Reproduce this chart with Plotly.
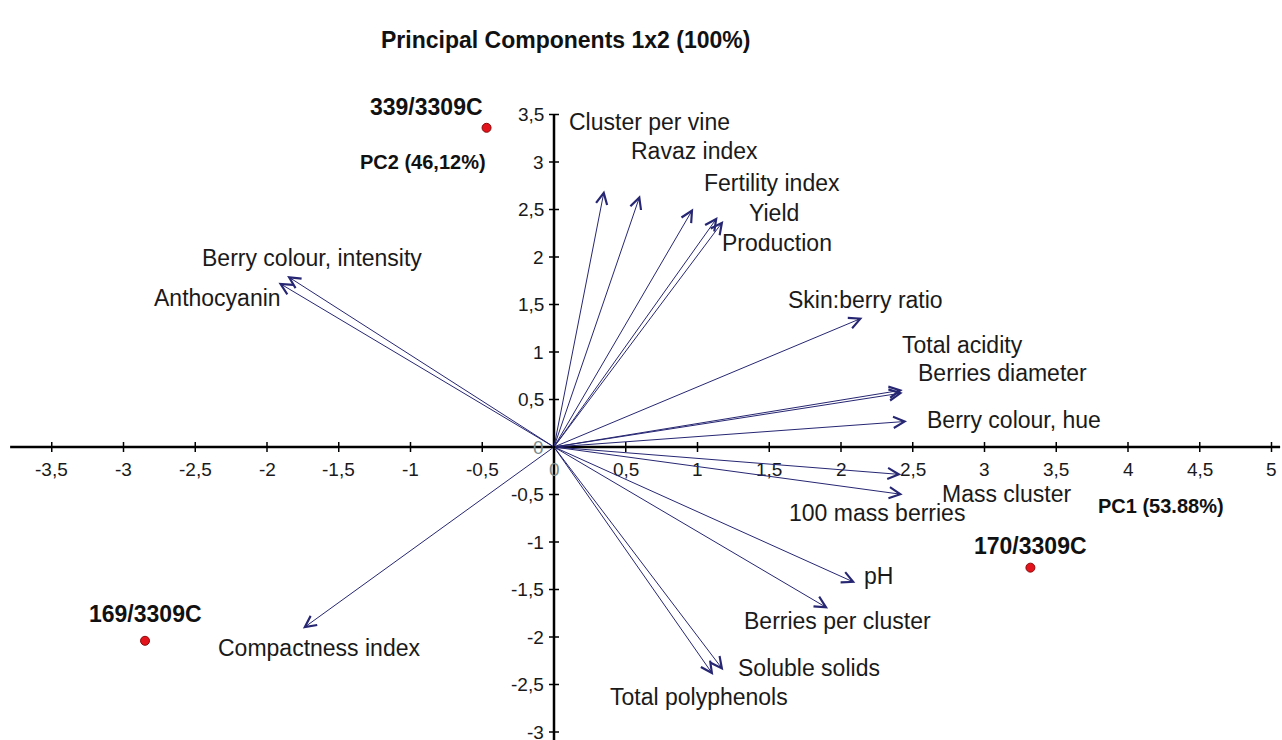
import plotly.graph_objects as go

# Variable loadings on the first two principal components
variables = [
    "Cluster per vine", "Ravaz index", "Fertility index", "Yield", "Production",
    "Berry colour, intensity", "Anthocyanin", "Skin:berry ratio", "Total acidity",
    "Berries diameter", "Berry colour, hue", "100 mass berries", "Mass cluster",
    "pH", "Berries per cluster", "Soluble solids", "Total polyphenols",
    "Compactness index",
]
pc1 = [0.35, 0.60, 0.97, 1.14, 1.18, -1.86, -1.92, 2.15, 2.43,
       2.43, 2.46, 2.42, 2.43, 2.10, 1.91, 1.18, 1.11, -1.75]
pc2 = [2.70, 2.65, 2.51, 2.42, 2.38, 1.80, 1.73, 1.36, 0.60,
       0.57, 0.27, -0.29, -0.50, -1.43, -1.70, -2.35, -2.40, -1.91]

# Sample scores
samples = ["339/3309C", "170/3309C", "169/3309C"]
sample_pc1 = [-0.47, 3.32, -2.85]
sample_pc2 = [3.36, -1.27, -2.04]

x_ticks = [-3.5, -3, -2.5, -2, -1.5, -1, -0.5, 0, 0.5, 1, 1.5, 2, 2.5, 3, 3.5, 4, 4.5, 5]
y_ticks = [-3, -2.5, -2, -1.5, -1, -0.5, 0, 0.5, 1, 1.5, 2, 2.5, 3, 3.5]

# Label placement relative to each arrow tip (pixels: right, up)
label_shift = [
    (-37, 69), (-11, 44), (9, 26), (29, 4), (-3, -22),
    (-87, 18), (-126, -15), (-77, 18), (-3, 45),
    (13, 20), (18, 1), (-114, -38), (37, 1),
    (7, 7), (-86, -12), (13, 2), (-105, -22), (-87, -20),
]
sample_shift = [(-2, 21, "right"), (0, 22, "center"), (0, 27, "center")]

W, H = 1282, 740
X0_PX, Y0_PX = 554, 447          # pixel position of the origin
SX, SY = 143.5, 95.0             # pixels per unit
x_range = [-X0_PX / SX, (W - X0_PX) / SX]
y_range = [(Y0_PX - H) / SY, Y0_PX / SY]

ARROW = "#262673"
LABEL_FONT = dict(family="Liberation Sans, Arial, sans-serif", size=23, color="#1a1a1a")
TICK_FONT = dict(family="Liberation Sans, Arial, sans-serif", size=19, color="#1a1a1a")
BOLD_FONT = dict(family="Liberation Sans, Arial, sans-serif", size=23, color="#111111",
                 weight="bold")

fig = go.Figure()

# Axes drawn through the origin
x_lo, x_hi = -3.79, 5.06
y_lo, y_hi = -3.1, 3.5
fig.add_trace(go.Scatter(x=[x_lo, x_hi], y=[0, 0], mode="lines",
                         line=dict(color="black", width=2.5), hoverinfo="skip"))
fig.add_trace(go.Scatter(x=[0, 0], y=[y_lo, y_hi], mode="lines",
                         line=dict(color="black", width=2.5), hoverinfo="skip"))

tx, ty = [], []
dy_tick = 5 / SY
for v in x_ticks:
    tx += [v, v, None]
    ty += [-dy_tick, dy_tick, None]
dx_tick = 5 / SX
for v in y_ticks:
    tx += [-dx_tick, dx_tick, None]
    ty += [v, v, None]
fig.add_trace(go.Scatter(x=tx, y=ty, mode="lines", line=dict(color="black", width=1.5),
                         hoverinfo="skip"))


def fmt(v):
    return f"{v:g}".replace(".", ",")


annotations = []
for v in x_ticks:
    annotations.append(dict(x=v, y=0, xref="x", yref="y", text=fmt(v), showarrow=False,
                            yshift=-22, xanchor="center", yanchor="middle",
                            font=TICK_FONT if v != 0 else dict(TICK_FONT, color="#7a8a8a")))
for v in y_ticks:
    annotations.append(dict(x=0, y=v, xref="x", yref="y", text=fmt(v), showarrow=False,
                            xshift=-8, xanchor="right", yanchor="middle",
                            font=TICK_FONT if v != 0 else dict(TICK_FONT, color="#7a8a8a")))

# Loading vectors
for name, a, b, (sx, sy) in zip(variables, pc1, pc2, label_shift):
    annotations.append(dict(x=a, y=b, ax=0, ay=0, xref="x", yref="y", axref="x", ayref="y",
                            text="", showarrow=True, arrowhead=5, arrowsize=2.2,
                            arrowwidth=1, arrowcolor=ARROW))
    annotations.append(dict(x=a, y=b, xref="x", yref="y", text=name, showarrow=False,
                            xshift=sx, yshift=sy, xanchor="left", yanchor="middle",
                            font=LABEL_FONT))

# Sample scores
fig.add_trace(go.Scatter(x=sample_pc1, y=sample_pc2, mode="markers",
                         marker=dict(size=9, color="#e3141c",
                                     line=dict(color="#8a0a0a", width=1)),
                         hoverinfo="skip"))
for name, a, b, (sx, sy, anc) in zip(samples, sample_pc1, sample_pc2, sample_shift):
    annotations.append(dict(x=a, y=b, xref="x", yref="y", text=name, showarrow=False,
                            xshift=sx, yshift=sy, xanchor=anc, yanchor="middle",
                            font=BOLD_FONT))

# Component labels and title
annotations.append(dict(x=3.78, y=-0.62, xref="x", yref="y", text="PC1 (53.88%)",
                        showarrow=False, xanchor="left", yanchor="middle",
                        font=dict(BOLD_FONT, size=20)))
annotations.append(dict(x=-1.366, y=3.0, xref="x", yref="y", text="PC2 (46,12%)",
                        showarrow=False, xanchor="left", yanchor="middle",
                        font=dict(BOLD_FONT, size=20)))
annotations.append(dict(x=565 / W, y=1 - 40 / H, xref="paper", yref="paper",
                        text="Principal Components 1x2 (100%)", showarrow=False,
                        xanchor="center", yanchor="middle",
                        font=dict(BOLD_FONT, size=23)))

fig.update_layout(
    width=W, height=H,
    margin=dict(l=0, r=0, t=0, b=0),
    paper_bgcolor="white", plot_bgcolor="white",
    showlegend=False,
    xaxis=dict(range=x_range, visible=False, fixedrange=True),
    yaxis=dict(range=y_range, visible=False, fixedrange=True),
    annotations=annotations,
)

fig.write_html("out.html")
